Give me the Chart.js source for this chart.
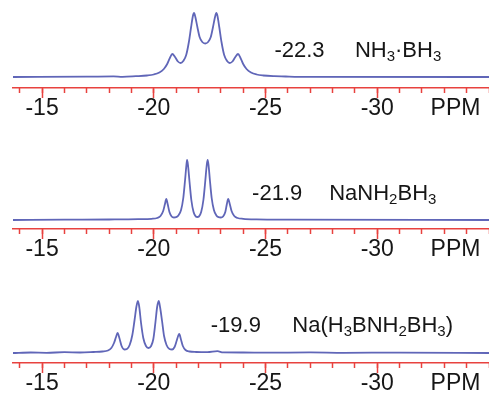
<!DOCTYPE html>
<html><head><meta charset="utf-8">
<script src="https://cdn.jsdelivr.net/npm/chart.js@4.4.1/dist/chart.umd.min.js"></script>
<style>
html,body{margin:0;padding:0;background:#fff;}
#wrap{position:relative;width:489px;height:404px;overflow:hidden;background:#fff;}
canvas{position:absolute;left:0;}
</style></head><body>
<div id="wrap">
<canvas id="c1" width="489" height="129" style="top:0px"></canvas>
<canvas id="c2" width="489" height="141" style="top:129px"></canvas>
<canvas id="c3" width="489" height="134" style="top:270px"></canvas>
</div>
<script>
// ---- data ----
// NH3·BH3 spectrum
const ppmTop = [-13.7,-17.0,-18.2,-18.6,-19.2,-19.7,-20.0,-20.25,-20.45,-20.6,-20.72,-20.83,-20.95,-21.08,-21.2,-21.32,-21.45,-21.57,-21.67,-21.75,-21.8,-21.86,-21.95,-22.05,-22.17,-22.3,-22.43,-22.55,-22.65,-22.74,-22.8,-22.85,-22.93,-23.03,-23.15,-23.28,-23.4,-23.52,-23.65,-23.77,-23.88,-24.0,-24.15,-24.35,-24.6,-24.9,-25.4,-25.9,-26.3,-27.0,-35.0];
const intTop = [0,0.3,0.6,0.2,0.8,1.5,2.5,4.5,8,13,19,23,20,15.5,14,16,22,35,50,61,64,60,50,40,35,33.5,35,40,50,60,64,61,50,35,22,16,14,15.5,20,23,19,13,8,4.5,2.5,1.5,0.8,0.5,0.2,0.1,0];
// NaNH2BH3 spectrum
const ppmMid = [-13.7,-16.0,-18.0,-19.3,-19.9,-20.15,-20.3,-20.42,-20.5,-20.56,-20.62,-20.7,-20.8,-20.9,-21.0,-21.1,-21.22,-21.32,-21.4,-21.46,-21.49,-21.53,-21.6,-21.68,-21.78,-21.88,-21.95,-22.02,-22.12,-22.22,-22.3,-22.37,-22.41,-22.45,-22.51,-22.59,-22.69,-22.8,-22.9,-23.0,-23.1,-23.2,-23.27,-23.33,-23.4,-23.48,-23.6,-23.75,-24.0,-24.6,-26.0,-35.0];
const intMid = [0,0.3,0.5,0.8,1.2,2,4,9,16,21,16,8,3.5,2.5,2.8,4.5,10,22,40,55,60,55,38,20,8,3.5,3,3.5,8,20,38,55,60,55,40,22,10,4.5,2.8,2.5,3.5,8,16,21,16,9,4,2,1.2,0.6,0.3,0];
// Na(H3BNH2BH3) spectrum
const ppmBot = [-13.7,-14.5,-15.2,-16.0,-16.7,-17.3,-17.7,-17.95,-18.1,-18.22,-18.31,-18.38,-18.46,-18.56,-18.68,-18.8,-18.92,-19.04,-19.14,-19.22,-19.29,-19.35,-19.43,-19.53,-19.65,-19.76,-19.88,-19.98,-20.07,-20.15,-20.22,-20.28,-20.37,-20.46,-20.57,-20.7,-20.82,-20.93,-21.02,-21.09,-21.14,-21.21,-21.3,-21.42,-21.6,-21.9,-22.4,-22.85,-23.1,-24.0,-25.0,-27.0,-28.5,-31.0,-35.0];
const intBot = [0,0.5,0.2,0.8,0.5,1,1.5,2.5,5,10,16,20,15,7,3.5,4,8,18,33,46,52,46,30,15,7,5,7,14,30,46,52,46,32,17,8,4,3.5,6,12,17,19,14,7,3,1.5,1,0.8,1.8,0.6,0.5,0.3,0.6,0.2,0.4,0];

const shiftLabels = ['-22.3', '-21.9', '-19.9'];
const compoundNames = ['NH_3·BH_3', 'NaNH_2BH_3', 'Na(H_3BNH_2BH_3)'];
const tickValues = [-15, -20, -25, -30];
const tickLabels = ['-15', '-20', '-25', '-30'];
const unitLabel = 'PPM';

// ---- styling / layout ----
const RED = '#e8423f';
const BLUE = '#6066b8';
const TXT = '#161616';
const FONT = '"Liberation Sans", Arial, sans-serif';
const UNIT_POS = -33.5;

const panels = [
  {id:'c1', ppm:ppmTop, ints:intTop, yMin:-11, yMax:77, shiftX:-25.4, nameX:-29.0, textY:20},
  {id:'c2', ppm:ppmMid, ints:intMid, yMin:-9,  yMax:91, shiftX:-24.4, nameX:-27.85, textY:20},
  {id:'c3', ppm:ppmBot, ints:intBot, yMin:-10, yMax:83, shiftX:-22.55, nameX:-26.2, textY:21}
];

function drawRich(ctx, str, x, y, size, subSize, drop) {
  let cx = x;
  const parts = str.split(/(_\d)/);
  for (const p of parts) {
    if (!p) continue;
    if (p[0] === '_') {
      ctx.font = subSize + 'px ' + FONT;
      ctx.fillText(p[1], cx, y + drop);
      cx += ctx.measureText(p[1]).width;
    } else {
      ctx.font = size + 'px ' + FONT;
      ctx.fillText(p, cx, y);
      cx += ctx.measureText(p).width;
    }
  }
}

const labelPlugin = {
  id: 'nmrLabel',
  afterDraw(chart, args, opts) {
    const ctx = chart.ctx;
    const xs = chart.scales.x, ys = chart.scales.y;
    ctx.save();
    ctx.fillStyle = TXT;
    ctx.textBaseline = 'alphabetic';
    ctx.textAlign = 'left';
    ctx.font = '22px ' + FONT;
    const y = ys.getPixelForValue(opts.textY);
    ctx.fillText(opts.shift, xs.getPixelForValue(opts.shiftX), y);
    drawRich(ctx, opts.name, xs.getPixelForValue(opts.nameX), y, 22, 15, 4);
    ctx.restore();
  }
};

panels.forEach((p, i) => {
  const pts = p.ppm.map((v, k) => ({x: v, y: p.ints[k]}));
  new Chart(document.getElementById(p.id), {
    type: 'line',
    data: { datasets: [{
      data: pts, borderColor: BLUE, borderWidth: 1.8, pointRadius: 0,
      cubicInterpolationMode: 'monotone', fill: false, xAxisID: 'x', yAxisID: 'y'
    }]},
    options: {
      responsive: false, animation: false, devicePixelRatio: 1,
      layout: { padding: {left: 13, right: 0, top: 0, bottom: 0}, autoPadding: false },
      plugins: {
        legend: {display: false}, tooltip: {enabled: false},
        nmrLabel: { shift: shiftLabels[i], name: compoundNames[i], shiftX: p.shiftX, nameX: p.nameX, textY: p.textY }
      },
      scales: {
        xm: {
          type: 'linear', position: 'bottom', reverse: true, min: -35, max: -13.7, weight: 0,
          afterFit: (s) => { s.height = 0; },
          ticks: { stepSize: 1, includeBounds: false, display: false },
          grid: { drawOnChartArea: false, drawTicks: true, tickLength: 5, tickColor: RED, tickWidth: 1.5 },
          border: { display: false }
        },
        x: {
          type: 'linear', position: 'bottom', reverse: true, min: -35, max: -13.7, weight: 1,
          afterFit: (s) => { s.height = 41; },
          afterBuildTicks: (s) => { s.ticks = tickValues.map(v => ({value: v})).concat([{value: UNIT_POS}]); },
          ticks: {
            includeBounds: false, autoSkip: false, maxRotation: 0, padding: -1, color: TXT,
            font: { family: FONT, size: 23, lineHeight: 1 },
            callback: (v) => v === UNIT_POS ? unitLabel : tickLabels[tickValues.indexOf(v)]
          },
          grid: { drawOnChartArea: false, drawTicks: true, tickLength: 10, tickWidth: 1.5,
                  tickColor: (c) => (c.tick && c.tick.value === UNIT_POS) ? 'rgba(0,0,0,0)' : RED },
          border: { display: true, color: RED, width: 1.5 }
        },
        y: { type: 'linear', display: false, min: p.yMin, max: p.yMax }
      }
    },
    plugins: [labelPlugin]
  });
});
</script>
</body></html>
